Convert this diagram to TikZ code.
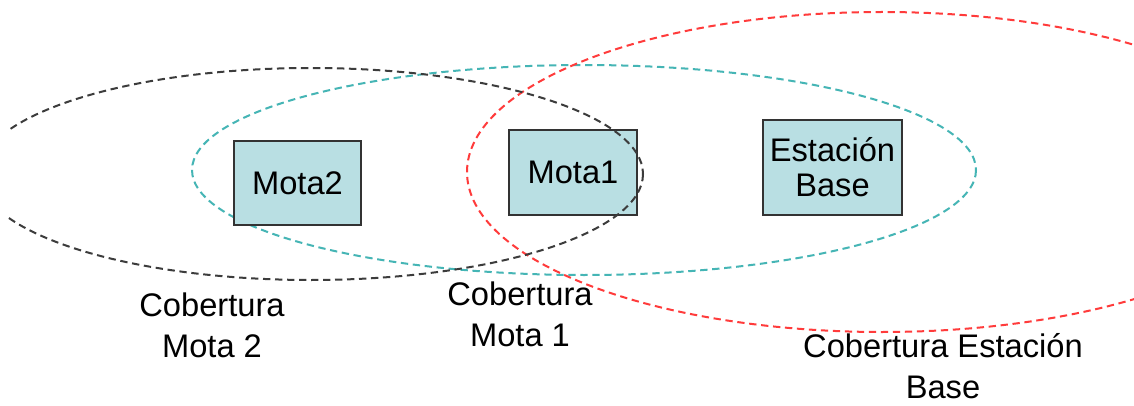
\documentclass[tikz,border=0pt]{standalone}
\usepackage{fontspec}
\setmainfont{Liberation Sans}
\definecolor{motefill}{HTML}{B9DFE3}
\definecolor{moteedge}{HTML}{333333}
\definecolor{rangegray}{HTML}{3C3C3C}
\definecolor{rangecyan}{HTML}{45B5B5}
\definecolor{rangered}{HTML}{FF3B3B}
\tikzset{
  rangeline/.style={line width=1.5pt, dash pattern=on 5.5pt off 3.5pt},
  motebox/.style={draw=moteedge, fill=motefill, line width=1.1pt, inner sep=0pt,
    align=center, font=\fontsize{24.5}{26.25}\selectfont},
  rangelabel/.style={inner sep=0pt, align=center, font=\fontsize{24.5}{30.75}\selectfont}
}
\begin{document}
\begin{tikzpicture}[x=0.75pt,y=-0.75pt]
\useasboundingbox (0,0) rectangle (1134,406);
\fill[white] (0,0) rectangle (1134,406);
% coverage areas drawn beneath the motes
\begin{scope}
  \clip (0,0) rectangle (1134,406);
  \draw[rangeline, rangecyan] (584,170) ellipse [x radius=392, y radius=105];
  \draw[rangeline, rangered] (882,172) ellipse [x radius=415, y radius=160];
\end{scope}
% motes and base station
\node[motebox, minimum width=95.25pt, minimum height=63pt] (mota2) at (297.5,183) {Mota2};
\node[motebox, minimum width=96pt, minimum height=63.75pt] (mota1) at (573,172.5) {Mota1};
\node[motebox, minimum width=104.25pt, minimum height=71.25pt] (base) at (832.5,167.5) {Estación\\Base};
% coverage of mote 2 drawn over the motes
\begin{scope}
  \clip (8,0) rectangle (1134,406);
  \draw[rangeline, rangegray] (311,174) ellipse [x radius=332, y radius=106];
\end{scope}
% coverage labels
\node[rangelabel] (lab2) at (212,325.5) {Cobertura\\Mota 2};
\node[rangelabel] (lab1) at (520,314.5) {Cobertura\\Mota 1};
\node[rangelabel] (labb) at (943,366) {Cobertura Estación\\Base};
\end{tikzpicture}
\end{document}
